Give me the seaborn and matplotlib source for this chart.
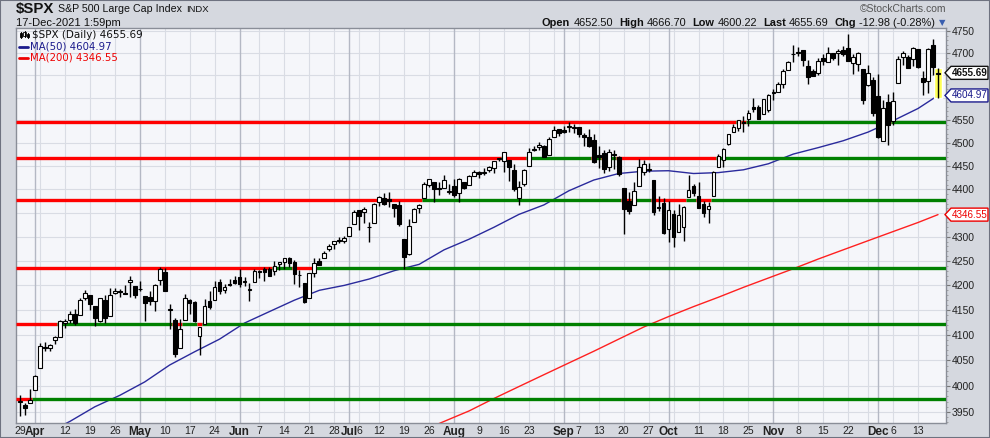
import numpy as np
import pandas as pd
import seaborn as sns
import matplotlib.pyplot as plt
from matplotlib.patches import Polygon, Rectangle
from matplotlib.ticker import FixedLocator, NullFormatter

sns.set_style("white")
plt.rcParams['font.family'] = ['DejaVu Sans']

holidays = ['2021-04-02', '2021-05-31', '2021-07-05', '2021-09-06', '2021-11-25']
dates = pd.bdate_range('2021-03-29', '2021-12-17')
dates = dates[~dates.isin(pd.to_datetime(holidays))]

opens = [
    3969.31, 3963.34, 3967.25, 3992.78,
    4034.44, 4075.57, 4074.29, 4089.95, 4096.11,
    4124.71, 4130.10, 4141.58, 4139.76, 4174.14,
    4179.80, 4159.18, 4128.42, 4170.46, 4138.78,
    4185.03, 4188.25, 4185.14, 4206.14, 4198.10,
    4191.98, 4179.04, 4177.06, 4169.14, 4210.34,
    4228.29, 4150.34, 4130.55, 4074.99, 4129.58,
    4169.92, 4165.94, 4098.45, 4121.97, 4168.61,
    4170.16, 4205.94, 4191.59, 4201.94, 4210.77,
    4216.52, 4206.82, 4191.43, 4206.05,
    4229.34, 4233.81, 4232.99, 4228.56, 4242.90,
    4248.31, 4255.28, 4248.87, 4220.37, 4204.78,
    4173.40, 4224.61, 4249.27, 4256.97, 4274.45,
    4284.90, 4293.21, 4290.65, 4300.73, 4326.60,
    4356.46, 4351.01, 4321.07, 4329.38,
    4372.41, 4381.07, 4380.11, 4369.02, 4367.43,
    4296.40, 4265.11, 4331.13, 4361.27, 4381.20,
    4409.58, 4416.38, 4402.95, 4403.59, 4395.12,
    4406.86, 4392.74, 4415.95, 4408.86, 4429.07,
    4437.77, 4435.79, 4442.18, 4446.08, 4464.84,
    4461.65, 4462.12, 4440.94, 4382.44, 4410.56,
    4450.29, 4484.40, 4490.45, 4493.75, 4474.10,
    4513.76, 4529.75, 4528.80, 4534.48, 4532.42,
    4535.38, 4518.09, 4513.02, 4506.92,
    4474.81, 4479.33, 4447.49, 4477.09, 4469.74,
    4402.95, 4374.45, 4367.43, 4406.75, 4438.04,
    4442.12, 4419.54, 4362.41, 4370.67, 4317.16,
    4348.84, 4309.87, 4319.57, 4383.73, 4406.51,
    4385.44, 4368.31, 4358.01, 4386.75, 4447.69,
    4463.72, 4497.34, 4524.42, 4532.24, 4546.12,
    4553.69, 4578.69, 4580.22, 4562.84, 4572.87,
    4610.62, 4613.34, 4630.65, 4662.93, 4699.26,
    4701.48, 4707.25, 4670.26, 4659.39, 4655.24,
    4689.30, 4679.42, 4701.50, 4700.72, 4708.44,
    4712.00, 4678.48, 4675.78, 4664.63,
    4628.75, 4640.25, 4602.82, 4504.73, 4589.49,
    4548.37, 4631.97, 4690.86, 4691.00, 4687.64,
    4710.30, 4642.99, 4636.46, 4719.13, 4652.50,
]
highs = [
    3981.83, 3968.01, 3994.41, 4020.63,
    4083.42, 4086.23, 4083.13, 4098.19, 4129.48,
    4131.76, 4148.00, 4151.69, 4173.49, 4191.31,
    4180.81, 4159.18, 4175.02, 4179.57, 4194.17,
    4194.19, 4193.35, 4201.53, 4218.78, 4198.10,
    4209.39, 4179.04, 4187.72, 4202.70, 4238.04,
    4236.39, 4162.04, 4134.73, 4131.58, 4183.13,
    4171.92, 4169.15, 4116.93, 4172.80, 4188.72,
    4209.52, 4213.42, 4202.61, 4213.38, 4218.36,
    4234.12, 4217.37, 4204.39, 4233.45,
    4232.34, 4236.74, 4237.09, 4249.74, 4248.38,
    4255.59, 4257.16, 4251.89, 4232.29, 4204.78,
    4226.24, 4255.84, 4256.60, 4271.28, 4286.12,
    4292.14, 4300.52, 4302.43, 4320.66, 4355.43,
    4356.46, 4361.88, 4330.88, 4371.60,
    4386.68, 4392.37, 4393.68, 4369.02, 4375.09,
    4296.40, 4336.84, 4359.70, 4369.87, 4415.18,
    4422.73, 4416.38, 4415.47, 4429.97, 4412.25,
    4422.18, 4423.79, 4416.17, 4429.76, 4440.82,
    4439.39, 4445.21, 4449.44, 4461.77, 4468.37,
    4480.26, 4462.12, 4454.32, 4418.61, 4444.35,
    4489.88, 4492.81, 4501.71, 4495.90, 4513.33,
    4537.36, 4531.39, 4537.11, 4545.85, 4541.45,
    4535.38, 4521.79, 4529.90, 4520.47,
    4492.99, 4485.68, 4486.87, 4485.87, 4471.52,
    4402.95, 4394.87, 4416.75, 4465.40, 4463.12,
    4457.30, 4419.54, 4385.57, 4382.55, 4375.19,
    4355.51, 4369.23, 4365.57, 4429.97, 4412.02,
    4415.88, 4374.89, 4372.87, 4439.73, 4475.82,
    4488.75, 4520.40, 4540.87, 4551.44, 4559.67,
    4572.62, 4598.53, 4584.57, 4597.55, 4608.08,
    4620.34, 4635.15, 4663.46, 4683.00, 4718.50,
    4714.92, 4708.53, 4684.85, 4664.55, 4688.47,
    4697.42, 4714.95, 4701.50, 4708.80, 4717.75,
    4743.83, 4699.39, 4702.87, 4664.63,
    4672.95, 4646.02, 4652.94, 4595.46, 4608.03,
    4612.60, 4694.04, 4705.06, 4695.26, 4713.57,
    4710.30, 4660.47, 4712.60, 4731.99, 4666.70,
]
lows = [
    3943.25, 3944.35, 3966.98, 3992.78,
    4034.44, 4068.14, 4068.31, 4082.54, 4095.51,
    4114.82, 4124.43, 4120.87, 4139.76, 4170.75,
    4150.47, 4118.38, 4126.35, 4123.69, 4138.78,
    4182.36, 4176.22, 4181.78, 4176.81, 4174.85,
    4188.03, 4128.59, 4160.94, 4147.33, 4201.64,
    4188.13, 4111.53, 4056.88, 4074.99, 4129.58,
    4142.69, 4125.99, 4061.41, 4121.97, 4151.72,
    4170.16, 4182.52, 4184.11, 4197.78, 4203.57,
    4197.59, 4198.27, 4167.93, 4206.05,
    4215.66, 4208.41, 4218.74, 4220.34, 4232.25,
    4234.07, 4238.35, 4202.45, 4196.05, 4164.40,
    4173.40, 4217.27, 4241.43, 4256.97, 4271.16,
    4274.67, 4287.04, 4287.96, 4300.73, 4326.60,
    4314.37, 4329.79, 4289.37, 4329.38,
    4364.03, 4366.92, 4362.36, 4340.70, 4322.53,
    4233.13, 4262.05, 4331.13, 4350.06, 4381.20,
    4405.45, 4372.51, 4387.01, 4403.59, 4389.65,
    4384.81, 4373.00, 4400.23, 4408.86, 4429.07,
    4424.74, 4430.03, 4436.42, 4435.96, 4460.82,
    4437.66, 4417.83, 4397.59, 4367.73, 4406.80,
    4450.29, 4482.28, 4485.66, 4468.99, 4474.10,
    4513.76, 4515.80, 4522.02, 4524.66, 4521.65,
    4513.00, 4493.95, 4492.07, 4457.66,
    4445.70, 4435.46, 4438.37, 4443.80, 4427.76,
    4305.91, 4347.96, 4367.43, 4406.75, 4430.27,
    4436.19, 4346.33, 4355.08, 4306.24, 4288.52,
    4278.94, 4309.87, 4290.49, 4383.73, 4386.22,
    4360.59, 4342.09, 4329.92, 4386.75, 4447.69,
    4447.47, 4496.41, 4524.40, 4526.89, 4524.00,
    4537.36, 4569.17, 4551.66, 4562.84, 4567.59,
    4595.06, 4613.34, 4621.19, 4662.59, 4681.32,
    4694.39, 4670.87, 4630.86, 4648.31, 4650.77,
    4672.86, 4679.42, 4684.41, 4672.78, 4694.22,
    4682.17, 4652.66, 4659.89, 4585.43,
    4625.26, 4560.00, 4510.27, 4504.73, 4495.12,
    4540.51, 4631.97, 4674.52, 4665.98, 4670.24,
    4667.60, 4606.52, 4611.22, 4651.89, 4600.22,
]
closes = [
    3971.09, 3958.55, 3972.89, 4019.87,
    4077.91, 4073.94, 4079.95, 4097.17, 4128.80,
    4127.99, 4141.59, 4124.66, 4170.42, 4185.47,
    4163.26, 4134.94, 4173.42, 4134.98, 4180.17,
    4187.62, 4186.72, 4183.18, 4211.47, 4181.17,
    4192.66, 4164.66, 4167.59, 4201.62, 4232.60,
    4188.43, 4152.10, 4063.04, 4112.50, 4173.85,
    4163.29, 4127.83, 4115.68, 4159.12, 4155.86,
    4197.05, 4188.13, 4195.99, 4200.88, 4204.11,
    4202.04, 4208.12, 4192.85, 4229.89,
    4226.52, 4227.26, 4219.55, 4239.18, 4247.44,
    4255.15, 4246.59, 4223.70, 4221.86, 4166.45,
    4224.79, 4246.44, 4241.84, 4266.49, 4280.70,
    4290.61, 4291.80, 4297.50, 4319.94, 4352.34,
    4343.54, 4358.13, 4320.82, 4369.55,
    4384.63, 4369.21, 4374.30, 4360.03, 4327.16,
    4258.49, 4323.06, 4358.69, 4367.48, 4411.79,
    4422.30, 4401.46, 4400.64, 4419.15, 4395.26,
    4387.16, 4423.15, 4402.66, 4429.10, 4436.52,
    4432.35, 4436.75, 4447.70, 4460.83, 4468.00,
    4479.71, 4448.08, 4400.27, 4405.80, 4441.67,
    4479.53, 4486.23, 4496.19, 4470.00, 4509.37,
    4528.79, 4522.68, 4524.09, 4536.95, 4535.43,
    4520.03, 4514.07, 4493.28, 4458.58,
    4468.73, 4443.05, 4480.70, 4473.75, 4432.99,
    4357.73, 4354.19, 4395.64, 4448.98, 4455.48,
    4443.11, 4352.63, 4359.46, 4307.54, 4357.04,
    4300.46, 4345.72, 4363.55, 4399.76, 4391.34,
    4361.19, 4350.65, 4363.80, 4438.26, 4471.37,
    4486.46, 4519.63, 4536.19, 4549.78, 4544.90,
    4566.48, 4574.79, 4551.68, 4596.42, 4605.38,
    4613.67, 4630.65, 4660.57, 4680.06, 4697.53,
    4701.70, 4685.25, 4646.71, 4649.27, 4682.85,
    4682.80, 4700.90, 4688.67, 4704.54, 4697.96,
    4682.94, 4690.70, 4701.46, 4594.62,
    4655.27, 4567.00, 4513.04, 4577.10, 4538.43,
    4591.67, 4686.75, 4701.21, 4667.45, 4712.02,
    4668.97, 4634.09, 4709.85, 4668.67, 4655.69,
]

# moving averages (bar index -> value)
ma50_idx = [0, 5, 10, 15, 20, 25, 30, 35, 40, 45, 50, 55, 60, 65, 70, 75, 80, 85, 90, 95,
            100, 105, 110, 115, 120, 125, 130, 135, 140, 145, 150, 155, 160, 165, 170, 175, 180, 184]
ma50_val = [3885, 3908, 3932, 3960, 3982, 4008, 4041, 4067, 4092, 4124, 4147, 4170, 4190, 4200,
            4213, 4230, 4243, 4273, 4295, 4320, 4347, 4367, 4397, 4420, 4434, 4439, 4440, 4434,
            4436, 4442, 4455, 4476, 4490, 4505, 4524, 4549, 4576, 4604.97]
ma200_idx = [80, 85, 90, 95, 100, 105, 110, 115, 120, 125, 130, 135, 140, 145, 150, 155, 160,
             165, 170, 175, 180, 184]
ma200_val = [3912, 3932, 3952, 3976, 3999, 4022, 4045, 4068, 4092, 4116, 4137, 4157, 4176, 4196,
             4215, 4234, 4254, 4273, 4292, 4311, 4330, 4346.55]

levels = [3975, 4122, 4235, 4378, 4468.5, 4546]

tick_dates = ['2021-03-29', '2021-04-01', '2021-04-12', '2021-04-19', '2021-04-26', '2021-05-03',
              '2021-05-10', '2021-05-17', '2021-05-24', '2021-06-01', '2021-06-07', '2021-06-14',
              '2021-06-21', '2021-06-28', '2021-07-01', '2021-07-06', '2021-07-12', '2021-07-19',
              '2021-07-26', '2021-08-02', '2021-08-09', '2021-08-16', '2021-08-23', '2021-09-01',
              '2021-09-07', '2021-09-13', '2021-09-20', '2021-09-27', '2021-10-01', '2021-10-11',
              '2021-10-18', '2021-10-25', '2021-11-01', '2021-11-08', '2021-11-15', '2021-11-22',
              '2021-12-01', '2021-12-06', '2021-12-13']
tick_texts = ['29', 'Apr', '12', '19', '26', 'May', '10', '17', '24', 'Jun', '7', '14', '21', '28',
              'Jul', '6', '12', '19', '26', 'Aug', '9', '16', '23', 'Sep', '7', '13', '20', '27',
              'Oct', '11', '18', '25', 'Nov', '8', '15', '22', 'Dec', '6', '13']
month_texts = ['Apr', 'May', 'Jun', 'Jul', 'Aug', 'Sep', 'Oct', 'Nov', 'Dec']

n = len(dates)
assert n == len(opens) == len(highs) == len(lows) == len(closes) == 185

df = pd.DataFrame({'open': opens, 'high': highs, 'low': lows, 'close': closes})
df['i'] = np.arange(n)

W, H = 990, 438
X0, X1 = -0.8, 185.6
def px(x, y):
    return (x / W, 1 - y / H)

fig = plt.figure(figsize=(9.9, 4.38), dpi=100, facecolor='#d5d8df')
ax = fig.add_axes([16 / W, 1 - 423 / H, 930 / W, 395 / H])
ax.set_facecolor('#f5f6fa')
ax.set_yscale('log')
ax.set_xlim(X0, X1)
ax.set_ylim(3929, 4758)

# grid
for v in range(3950, 4751, 50):
    ax.axhline(v, color='#d9dce4', lw=0.8, zorder=0)
for i in range(1, n):
    if dates[i].month != dates[i - 1].month:
        ax.axvline(i, color='#b4b8c4', lw=1.0, zorder=0)
    elif dates[i].weekday() < dates[i - 1].weekday():
        ax.axvline(i, color='#d9dce4', lw=0.8, zorder=0)

# moving averages
sns.lineplot(x=ma200_idx, y=ma200_val, ax=ax, color='#ff2020', lw=1.0, zorder=1)
sns.lineplot(x=ma50_idx, y=ma50_val, ax=ax, color='#2a2a9c', lw=1.0, zorder=2)

# support / resistance lines, red while the close is below, green above
for lv in levels:
    above = (df['close'] >= lv).to_numpy()
    start = 0
    for i in range(1, n + 1):
        if i == n or above[i] != above[start]:
            a = X0 if start == 0 else start - 0.5
            b = X1 if i == n else i - 0.5
            ax.plot([a, b], [lv, lv], color='#008000' if above[start] else '#ff0000',
                    lw=2.4, solid_capstyle='butt', zorder=3)
            start = i

# highlight last bar
last = df.iloc[-1]
ax.bar(last['i'], last['high'] - last['low'], bottom=last['low'], width=1.5,
       color='#ffff55', zorder=3.5)

# candles
ax.vlines(df['i'], df['low'], df['high'], color='black', lw=1.0, zorder=4)
body_lo = df[['open', 'close']].min(axis=1)
body_h = (df['close'] - df['open']).abs().clip(lower=0.6)
face = np.where(df['close'] >= df['open'], 'white', 'black')
ax.bar(df['i'], body_h, bottom=body_lo, width=0.75, color=face, edgecolor='black',
       lw=0.8, zorder=5)

# axes styling
for s in ax.spines.values():
    s.set_color('#8a8e98')
    s.set_linewidth(1)
ax.yaxis.tick_right()
yt = list(range(3950, 4751, 50))
ax.yaxis.set_major_locator(FixedLocator(yt))
ax.set_yticklabels([str(v) if v not in (4650, 4600, 4350) else '' for v in yt])
ax.yaxis.set_minor_locator(FixedLocator(list(range(3930, 4760, 10))))
ax.yaxis.set_minor_formatter(NullFormatter())
ax.tick_params(axis='y', which='major', length=3, color='#777777', labelsize=7.5,
               labelcolor='#222222', pad=1)
ax.tick_params(axis='y', which='minor', length=1.5, color='#999999')
for t in ax.get_yticklabels():
    t.set_family('Liberation Sans')

pos = [int(np.where(dates == pd.Timestamp(d))[0][0]) for d in tick_dates]
ax.set_xticks(pos)
ax.set_xticklabels(tick_texts)
ax.xaxis.set_minor_locator(FixedLocator(list(range(n))))
ax.xaxis.set_minor_formatter(NullFormatter())
ax.tick_params(axis='x', which='major', length=0, labelsize=7.5, labelcolor='#222222', pad=2)
ax.tick_params(axis='x', which='minor', length=2, direction='in', color='#999999')
for t in ax.get_xticklabels():
    t.set_family('Liberation Sans')
    if t.get_text() in month_texts:
        t.set_fontweight('bold')
        t.set_fontsize(8.5)
ax.set_xlabel('')
ax.set_ylabel('')

r = fig.canvas.get_renderer()

# header, left side placed piece by piece
x = 16
for txt, sz, wt in [('$SPX', 10.8, 'bold'), ('S&P 500 Large Cap Index', 7.7, 'normal'),
                    ('INDX', 6.8, 'normal')]:
    t = fig.text(*px(x, 9), txt, fontsize=sz, fontweight=wt, family='Liberation Sans',
                 va='center', color='#111111')
    x += t.get_window_extent(renderer=r).width + 4
fig.text(*px(16, 23), '17-Dec-2021 1:59pm', fontsize=8, family='Liberation Sans',
         va='center', color='#111111')
fig.text(*px(946, 9), '\u00a9StockCharts.com', fontsize=7.5, family='Liberation Sans',
         ha='right', va='center', color='#555555')
fig.text(*px(942, 23), '\u25bc', fontsize=6, ha='center', va='center', color='#3a5fb0')

pieces = [('Open', 'bold'), ('4652.50', 'normal'), ('High', 'bold'), ('4666.70', 'normal'),
          ('Low', 'bold'), ('4600.22', 'normal'), ('Last', 'bold'), ('4655.69', 'normal'),
          ('Chg', 'bold'), ('-12.98 (-0.28%)', 'normal')]
x = 935
for txt, wt in reversed(pieces):
    t = fig.text(*px(x, 23), txt, fontsize=7.9, fontweight=wt, family='Liberation Sans',
                 ha='right', va='center', color='#111111')
    x -= t.get_window_extent(renderer=r).width + (3 if wt == 'normal' else 6)

# legend
fig.text(*px(32, 35), '$SPX (Daily) 4655.69', fontsize=7.5, va='center', color='#111111')
fig.text(*px(30, 46.5), 'MA(50) 4604.97', fontsize=7.3, va='center', color='#1a1a8c')
fig.text(*px(30, 58), 'MA(200) 4346.55', fontsize=7.3, va='center', color='#ee0000')
fig.add_artist(plt.Line2D([19 / W, 28 / W], [1 - 46.5 / H] * 2, color='#1a1a8c', lw=2))
fig.add_artist(plt.Line2D([19 / W, 28 / W], [1 - 58 / H] * 2, color='#ee0000', lw=2))
for cx, y0, y1, fc in [(21, 32, 38, 'black'), (24.5, 31, 37, 'white'), (28, 33, 38, 'black')]:
    fig.add_artist(plt.Line2D([cx / W] * 2, [1 - y0 / H, 1 - y1 / H], color='black', lw=0.8))
    fig.add_artist(Rectangle(px(cx - 1.2, y1 - 1), 2.4 / W, (y1 - y0 - 2) / H, facecolor=fc,
                             edgecolor='black', lw=0.6))

# value callouts on the right axis
def callout(v, txt, col, wt):
    yd = ax.transData.transform((0, v))[1]
    yp = H - yd
    pts = [px(945, yp), px(951, yp - 6.5), px(988, yp - 6.5), px(988, yp + 6.5), px(951, yp + 6.5)]
    fig.add_artist(Polygon(pts, closed=True, facecolor='white', edgecolor=col, lw=1,
                           transform=fig.transFigure))
    fig.text(*px(969.5, yp), txt, fontsize=7.1, fontweight=wt, family='Liberation Sans',
             ha='center', va='center', color=col)

callout(4655.69, '4655.69', '#111111', 'bold')
callout(4604.97, '4604.97', '#1a1a8c', 'normal')
callout(4346.55, '4346.55', '#ee0000', 'normal')

fig.add_artist(Rectangle((0, 0), 1, 1, fill=False, edgecolor='#6e7280', lw=1.5,
                         transform=fig.transFigure))

fig.savefig('out.png', dpi=100, facecolor=fig.get_facecolor())
